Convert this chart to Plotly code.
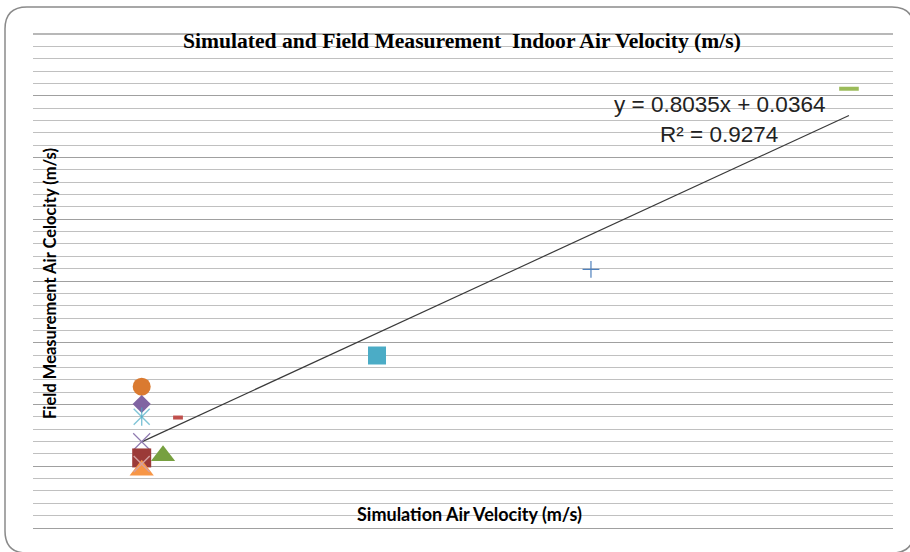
import plotly.graph_objects as go

# ---------------- data ----------------
point_names = ["P1", "P2", "P3", "P4", "P5", "P6", "P7", "P8", "P9", "P10", "P11", "P12"]
sim_velocity = [0.0632, 0.0632, 0.0632, 0.0632, 0.0632, 0.0632, 0.0632, 0.0756, 0.0843, 0.2000, 0.3244, 0.4744]
field_velocity = [0.1430, 0.1255, 0.1127, 0.0873, 0.0709, 0.0584, 0.0648, 0.0732, 0.1118, 0.1746, 0.2618, 0.4446]

trend_slope = 0.8035
trend_intercept = 0.0364
trend_r2 = 0.9274

title_text = "Simulated and Field Measurement  Indoor Air Velocity (m/s)"
x_title = "Simulation Air Velocity (m/s)"
y_title = "Field Measurement Air Celocity (m/s)"

# ---------------- styles ----------------
marker_symbols = ["circle", "diamond", "star6", "x-thin-open", "square", "triangle-up",
                  "x-thin-open", "triangle-up", "line-ew-open", "square", "cross-thin-open", "line-ew-open"]
marker_colors = ["#DA7A30", "#8064A2", "#4BACC6", "#8F7AB0", "#9B3A38", "#F79646",
                 "#D5A0A0", "#77A040", "#C0504D", "#4BACC6", "#4F81BD", "#9BBB59"]
marker_sizes = [18, 14, 16, 17, 19, 21, 16, 21, 7, 18, 12, 14]
marker_lw = [0, 0, 1.4, 1.2, 0, 0, 1.4, 0, 4, 0, 1.2, 4]

W, H = 910, 552
L, R, T, B = 33, 893, 34, 528
PW, PH = R - L, B - T


def px(x):
    return (x - L) / PW


def py(y):
    return (B - y) / PH


fig = go.Figure()

# trend line from the stated regression, over the data's x span
x0, x1 = min(sim_velocity), max(sim_velocity)
fig.add_trace(go.Scatter(
    x=[x0, x1],
    y=[trend_slope * x0 + trend_intercept, trend_slope * x1 + trend_intercept],
    mode="lines", line=dict(color="#3a3a3a", width=1.2),
    showlegend=False, hoverinfo="skip"))

draw_order = [0, 1, 3, 4, 5, 6, 7, 8, 9, 10, 11, 2]
for i in draw_order:
    sym = marker_symbols[i]
    if sym == "star6":
        # Excel "star" marker: an X with a vertical bar
        fig.add_trace(go.Scatter(
            x=[sim_velocity[i], sim_velocity[i]], y=[field_velocity[i], field_velocity[i]],
            mode="markers", name=point_names[i], showlegend=False,
            marker=dict(symbol=["x-thin-open", "line-ns-open"], size=[16, 13],
                        color=marker_colors[i],
                        line=dict(color=marker_colors[i], width=marker_lw[i]))))
        continue
    fig.add_trace(go.Scatter(
        x=[sim_velocity[i]], y=[field_velocity[i]],
        mode="markers", name=point_names[i], showlegend=False,
        marker=dict(symbol=sym, size=marker_sizes[i], color=marker_colors[i],
                    line=dict(color=marker_colors[i], width=marker_lw[i]))))

# rounded chart border (decoration)
bx0, by0, bx1, by1, rr = 5, 7, 914, 553, 22
path = (f"M {px(bx0 + rr)},{py(by0)} L {px(bx1 - rr)},{py(by0)} "
        f"Q {px(bx1)},{py(by0)} {px(bx1)},{py(by0 + rr)} "
        f"L {px(bx1)},{py(by1 - rr)} Q {px(bx1)},{py(by1)} {px(bx1 - rr)},{py(by1)} "
        f"L {px(bx0 + rr)},{py(by1)} Q {px(bx0)},{py(by1)} {px(bx0)},{py(by1 - rr)} "
        f"L {px(bx0)},{py(by0 + rr)} Q {px(bx0)},{py(by0)} {px(bx0 + rr)},{py(by0)} Z")

fig.update_layout(
    width=W, height=H,
    margin=dict(l=L, r=W - R, t=T, b=H - B),
    paper_bgcolor="white", plot_bgcolor="white",
    showlegend=False,
    xaxis=dict(range=[0, 0.5], showgrid=False, zeroline=False, showticklabels=False,
               ticks="", showline=False, fixedrange=True),
    yaxis=dict(range=[0, 0.5], dtick=0.0625, tick0=0, showgrid=True, gridcolor="#A0A0A0",
               gridwidth=1.3, zeroline=True, zerolinecolor="#A0A0A0", zerolinewidth=1.3,
               showticklabels=False, ticks="", showline=False,
               minor=dict(dtick=0.0125, showgrid=True, gridcolor="#C0C0C0", gridwidth=1, ticks="")),
    shapes=[dict(type="path", xref="paper", yref="paper", path=path,
                 line=dict(color="#8A8A8A", width=1.5), fillcolor="rgba(0,0,0,0)", layer="above"),
            dict(type="line", xref="paper", yref="paper", x0=0, x1=1, y0=1, y1=1,
                 line=dict(color="#A0A0A0", width=1.3), layer="below")],
    annotations=[
        dict(text=f"<b>{title_text}</b>", xref="paper", yref="paper",
             x=px(462), y=py(41), xanchor="center", yanchor="middle", showarrow=False,
             font=dict(family="Liberation Serif", size=21.6, color="black")),
        dict(text=f"<b>{x_title}</b>", xref="paper", yref="paper",
             x=px(469), y=py(514), xanchor="center", yanchor="middle", showarrow=False,
             font=dict(family="Lato", size=18, color="black")),
        dict(text=f"<b>{y_title}</b>", xref="paper", yref="paper", textangle=-90,
             x=px(50), y=py(284), xanchor="center", yanchor="middle", showarrow=False,
             font=dict(family="Lato", size=16.5, color="black")),
        dict(text=f"y = {trend_slope}x + {trend_intercept}", xref="paper", yref="paper",
             x=px(719), y=py(104), xanchor="center", yanchor="middle", showarrow=False,
             font=dict(family="Liberation Sans", size=22.5, color="#222222")),
        dict(text=f"R² = {trend_r2}", xref="paper", yref="paper",
             x=px(719), y=py(134), xanchor="center", yanchor="middle", showarrow=False,
             font=dict(family="Liberation Sans", size=22.5, color="#222222")),
    ],
)

fig.write_html("out.html")
